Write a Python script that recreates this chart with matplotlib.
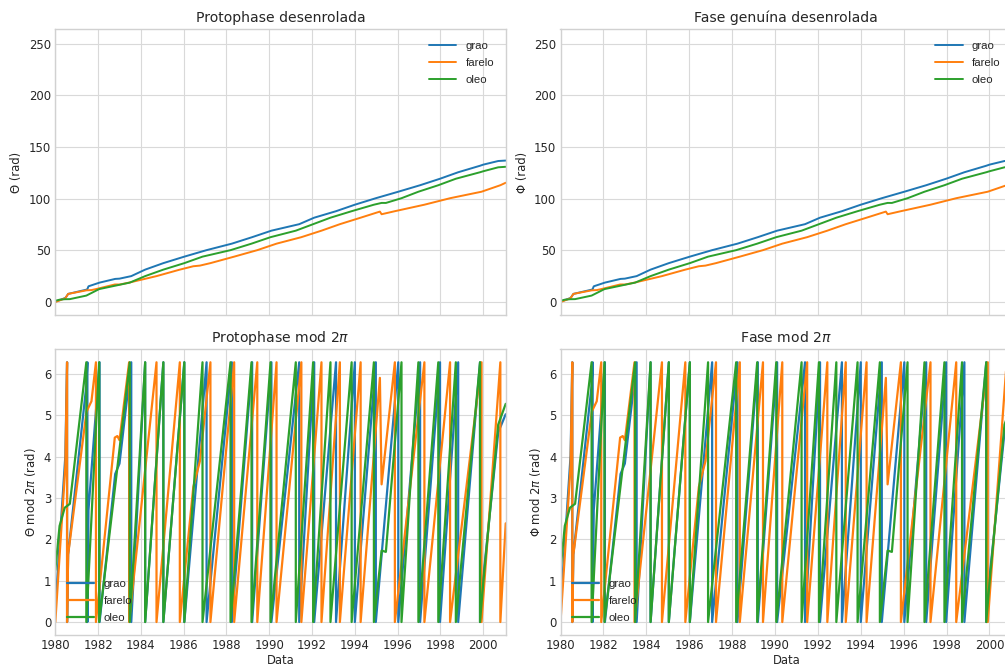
import numpy as np
import matplotlib
matplotlib.use("Agg")
import matplotlib.pyplot as plt

# fase desenrolada em ciclos (voltas), vertices:
# cada valor inteiro e um cruzamento de multiplo de 2*pi
grao_anos = [1980.0, 1980.47, 1980.55, 1980.6, 1981.45, 1981.50, 1981.55, 1982.07,
             1982.8, 1983.0, 1983.55, 1984.2, 1985.05, 1986.03, 1987.07, 1988.25,
             1989.2, 1990.1, 1991.4, 1992.1, 1993.12, 1994.0, 1994.98, 1996.03,
             1997.05, 1997.98, 1998.83, 1999.85, 2000.0, 2000.7, 2001.05]
grao_ciclos = [0.05, 0.64, 1.0, 1.26, 1.91, 2.0, 2.43, 3.0,
               3.57, 3.61, 4.0, 5.0, 6.0, 7.0, 8.0, 9.0,
               10.0, 11.0, 12.0, 13.0, 14.0, 15.0, 16.0, 17.0,
               18.0, 19.0, 20.0, 21.0, 21.17, 21.73, 21.8]

farelo_anos = [1980.0, 1980.47, 1980.55, 1980.6, 1981.46, 1981.69, 1981.9, 1982.78,
               1982.9, 1983.0, 1983.45, 1984.73, 1985.82, 1986.45, 1986.76, 1987.25,
               1988.36, 1989.44, 1990.34, 1991.5, 1992.44, 1993.3, 1994.27, 1995.17,
               1995.25, 1995.87, 1997.25, 1998.45, 1999.92, 2000.8, 2001.05]
farelo_ciclos = [0.0, 0.6, 1.0, 1.26, 1.81, 1.85, 2.0, 2.71,
                 2.716, 2.70, 3.0, 4.0, 5.0, 5.52, 5.62, 6.0,
                 7.0, 8.0, 9.0, 10.0, 11.0, 12.0, 13.0, 13.94,
                 13.53, 14.0, 15.0, 16.0, 17.0, 18.0, 18.38]

oleo_anos = [1980.0, 1980.2, 1980.44, 1980.68, 1981.45, 1982.05, 1983.48, 1984.2,
             1985.05, 1986.03, 1986.88, 1988.19, 1989.17, 1990.06, 1991.24, 1992.05,
             1992.86, 1993.85, 1994.89, 1995.25, 1995.45, 1996.18, 1996.97, 1997.9,
             1998.72, 1999.85, 2000.0, 2000.7, 2001.05]
oleo_ciclos = [0.2, 0.37, 0.44, 0.455, 1.0, 2.0, 3.0, 4.0,
               5.0, 6.0, 7.0, 8.0, 9.0, 10.0, 11.0, 12.0,
               13.0, 14.0, 15.0, 15.275, 15.27, 16.0, 17.0, 18.0,
               19.0, 20.0, 20.15, 20.76, 20.84]

nomes = ["grao", "farelo", "oleo"]
cores = ["#1f77b4", "#ff7f0e", "#2ca02c"]
series = [(grao_anos, grao_ciclos), (farelo_anos, farelo_ciclos), (oleo_anos, oleo_ciclos)]

DOIS_PI = 2 * np.pi


def envolver(anos, ciclos):
    """Fase mod 2pi: em cada cruzamento inteiro desenha a queda de 2pi para 0."""
    xs, ys = [], []
    for i, (t, c) in enumerate(zip(anos, ciclos)):
        if i > 0 and abs(c - round(c)) < 1e-9:
            xs += [t, t]
            ys += [DOIS_PI, 0.0]
        else:
            xs.append(t)
            ys.append(DOIS_PI * (c - np.floor(c)))
    return xs, ys


plt.style.use("seaborn-v0_8-whitegrid")
plt.rcParams["font.family"] = ["DejaVu Sans"]
plt.rcParams["axes.edgecolor"] = "0.82"
plt.rcParams["grid.color"] = "0.85"

W, H = 1005, 669
fig = plt.figure(figsize=(W / 100, H / 100), dpi=100)


def caixa(x0, x1, y0, y1):
    return [x0 / W, 1 - y1 / H, (x1 - x0) / W, (y1 - y0) / H]


ax_tl = fig.add_axes(caixa(55.3, 505.7, 29.3, 315))
ax_tr = fig.add_axes(caixa(560.5, 1012, 29.3, 315))
ax_bl = fig.add_axes(caixa(55.3, 505.7, 349.3, 635))
ax_br = fig.add_axes(caixa(560.5, 1012, 349.3, 635))

paineis = [
    (ax_tl, ax_bl, "Protophase desenrolada", r"Protophase mod 2$\pi$", "Θ"),
    (ax_tr, ax_br, "Fase genuína desenrolada", r"Fase mod 2$\pi$", "Φ"),
]

for ax_top, ax_bot, tit_top, tit_bot, simbolo in paineis:
    for (anos, ciclos), nome, cor in zip(series, nomes, cores):
        ax_top.plot(anos, DOIS_PI * np.array(ciclos), color=cor, lw=1.4, label=nome)
        xs, ys = envolver(anos, ciclos)
        ax_bot.plot(xs, ys, color=cor, lw=1.6, label=nome)

    ax_top.set_ylim(-12.5, 264)
    ax_bot.set_ylim(-0.314, 6.597)
    for ax in (ax_top, ax_bot):
        ax.set_xlim(1980.0, 2001.05)
        ax.set_xticks(np.arange(1980, 2001, 2))
        ax.tick_params(labelsize=8.4, colors="0.15", length=0, pad=3)
        for s in ax.spines.values():
            s.set_visible(True)
            s.set_color("0.82")
    ax_top.set_xticklabels([])
    ax_top.set_yticks(np.arange(0, 251, 50))
    ax_bot.set_yticks(np.arange(0, 7, 1))

    ax_top.set_title(tit_top, fontsize=10.1, color="0.15", pad=5)
    ax_bot.set_title(tit_bot, fontsize=10.1, color="0.15", pad=5)
    ax_top.set_ylabel(f"{simbolo} (rad)", fontsize=8.4, color="0.15")
    ax_bot.set_ylabel(simbolo + r" mod 2$\pi$ (rad)", fontsize=8.4, color="0.15")
    ax_bot.set_xlabel("Data", fontsize=8.4, color="0.15", labelpad=1)

    leg_fonte = {"family": "Liberation Sans", "size": 8.2}
    ax_top.legend(loc="upper right", prop=leg_fonte, handlelength=2.4,
                  labelspacing=0.63, borderaxespad=0.62)
    ax_bot.legend(loc="lower left", prop=leg_fonte, handlelength=2.4,
                  labelspacing=0.63, borderaxespad=0.62)

fig.savefig("out.png", dpi=100)
